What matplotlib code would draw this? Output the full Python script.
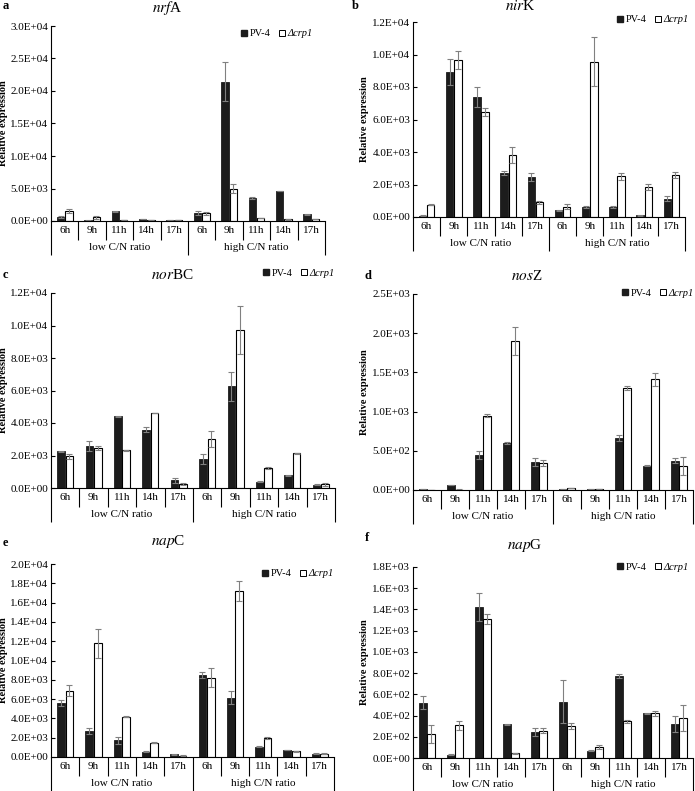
import numpy as np
import matplotlib.pyplot as plt
from matplotlib.patches import Patch
from matplotlib.ticker import FuncFormatter, MultipleLocator

plt.rcParams['font.family'] = ['Liberation Serif', 'DejaVu Serif']
plt.rcParams['mathtext.fontset'] = 'stix'

W, H = 695, 791

times = ['6h', '9h', '11h', '14h', '17h']
groups = ['low C/N ratio', 'high C/N ratio']
strains = ['PV-4', 'Δcrp1']

# values: low C/N (6h..17h) then high C/N (6h..17h)
nrfA_wt = [600, 100, 1500, 300, 150, 1200, 21400, 3550, 4600, 1050]
nrfA_wt_err = [150, 30, 50, 60, 40, 300, 3000, 150, 50, 100]
nrfA_mut = [1500, 560, 200, 200, 100, 1180, 5000, 450, 250, 300]
nrfA_mut_err = [300, 250, 30, 30, 20, 200, 700, 40, 40, 60]

nirK_wt = [80, 8900, 7400, 2710, 2480, 410, 620, 600, 100, 1130]
nirK_wt_err = [20, 800, 600, 100, 250, 30, 80, 50, 20, 150]
nirK_mut = [760, 9640, 6440, 3800, 900, 620, 9560, 2500, 1850, 2580]
nirK_mut_err = [20, 560, 250, 500, 100, 150, 1500, 200, 200, 200]

norBC_wt = [2260, 2600, 4410, 3590, 470, 1800, 6260, 390, 780, 200]
norBC_wt_err = [30, 300, 50, 150, 150, 300, 900, 20, 50, 30]
norBC_mut = [1950, 2460, 2320, 4620, 250, 3020, 9720, 1230, 2130, 230]
norBC_mut_err = [150, 150, 30, 20, 50, 500, 1500, 50, 50, 80]

nosZ_wt = [10, 65, 450, 600, 360, 15, 10, 660, 311, 375]
nosZ_wt_err = [3, 5, 50, 10, 50, 3, 3, 40, 10, 35]
nosZ_mut = [3, 5, 950, 1900, 345, 25, 10, 1300, 1410, 305]
nosZ_mut_err = [1, 2, 20, 175, 40, 3, 3, 25, 80, 120]

napC_wt = [5560, 2690, 1710, 560, 280, 8530, 6150, 1050, 730, 350]
napC_wt_err = [300, 300, 350, 30, 30, 300, 700, 50, 30, 30]
napC_mut = [6890, 11780, 4160, 1500, 140, 8220, 17200, 1960, 590, 350]
napC_mut_err = [600, 1500, 50, 30, 20, 1000, 1000, 100, 30, 30]

napG_wt = [523, 31, 1424, 316, 247, 532, 69, 773, 420, 319]
napG_wt_err = [60, 5, 130, 5, 40, 200, 5, 20, 5, 75]
napG_mut = [225, 307, 1309, 44, 257, 300, 106, 344, 422, 379]
napG_mut_err = [85, 40, 50, 5, 25, 30, 20, 10, 25, 120]

# layout: letter, italic part, upright part, data, ymax, step,
# axes box px (left, right, top, bottom), title xy, letter xy, legend xy, ylabel x
panels = [
    ('a', 'nrf', 'A', (nrfA_wt, nrfA_wt_err, nrfA_mut, nrfA_mut_err), 3.0e4, 5.0e3,
     (51, 325, 26, 221), (167, 8), (3, 6), (241, 34), 4),
    ('b', 'nir', 'K', (nirK_wt, nirK_wt_err, nirK_mut, nirK_mut_err), 1.2e4, 2.0e3,
     (413, 685, 22, 217), (520, 6), (352, 6), (617, 20), 365),
    ('c', 'nor', 'BC', (norBC_wt, norBC_wt_err, norBC_mut, norBC_mut_err), 1.2e4, 2.0e3,
     (51, 335, 293, 488), (172, 275), (3, 275), (263, 273), 4),
    ('d', 'nos', 'Z', (nosZ_wt, nosZ_wt_err, nosZ_mut, nosZ_mut_err), 2.5e3, 5.0e2,
     (413, 693, 294, 490), (527, 276), (365, 276), (622, 293), 364),
    ('e', 'nap', 'C', (napC_wt, napC_wt_err, napC_mut, napC_mut_err), 2.0e4, 2.0e3,
     (51, 334, 564, 757), (168, 542), (3, 543), (262, 574), 4),
    ('f', 'nap', 'G', (napG_wt, napG_wt_err, napG_mut, napG_mut_err), 1.8e3, 2.0e2,
     (413, 693, 567, 758), (525, 546), (365, 538), (617, 567), 364),
]

BAR_W = 0.27
GAP = 0.015
DARK = '#1c1c1c'
ERR = '#808080'


def sci(v, pos):
    return f"{v:.1E}"


def draw_categories(ax, box_h):
    d1 = 19 / box_h
    d2 = 34 / box_h
    tr = ax.get_xaxis_transform()
    for i in range(11):
        depth = d2 if i in (0, 5, 10) else d1
        ax.plot([i - 0.5, i - 0.5], [0, -depth], transform=tr, color='black',
                lw=0.8, clip_on=False, solid_capstyle='butt')
    for i, t in enumerate(times * 2):
        ax.text(i, -d1 / 2, t, transform=tr, ha='center', va='center', fontsize=8)
    for g, name in enumerate(groups):
        ax.text(2 + 5 * g, -(d1 + d2) / 2, name, transform=tr, ha='center',
                va='center', fontsize=8)


fig = plt.figure(figsize=(W / 100, H / 100), dpi=100)

for (letter, ital, upr, data, ymax, step, box, tpos, lpos, legpos, ylx) in panels:
    wt, wt_err, mut, mut_err = data
    L, R, T, B = box
    ax = fig.add_axes([L / W, 1 - B / H, (R - L) / W, (B - T) / H])
    x = np.arange(10)
    ax.bar(x - BAR_W / 2 - GAP, wt, BAR_W, color=DARK, edgecolor=DARK, lw=0.6,
           yerr=wt_err, capsize=2,
           error_kw=dict(ecolor=ERR, elinewidth=0.8, capthick=0.8))
    ax.bar(x + BAR_W / 2 + GAP, mut, BAR_W, color='white', edgecolor='black', lw=0.8,
           yerr=mut_err, capsize=2,
           error_kw=dict(ecolor=ERR, elinewidth=0.8, capthick=0.8))
    ax.set_xlim(-0.5, 9.5)
    ax.set_ylim(0, ymax)
    ax.yaxis.set_major_locator(MultipleLocator(step))
    ax.yaxis.set_major_formatter(FuncFormatter(sci))
    ax.set_xticks([])
    ax.tick_params(axis='y', direction='in', length=3, width=0.8, labelsize=8, pad=2)
    for s in ('top', 'right'):
        ax.spines[s].set_visible(False)
    for s in ('left', 'bottom'):
        ax.spines[s].set_linewidth(0.8)
    draw_categories(ax, B - T)

    fig.text(ylx / W, 1 - (T + B) / 2 / H, 'Relative expression', rotation=90,
             ha='center', va='center', fontsize=7.5, fontweight='bold')
    fig.text(tpos[0] / W, 1 - tpos[1] / H, rf'$\mathit{{{ital}}}$' + upr,
             ha='center', va='center', fontsize=11)
    fig.text(lpos[0] / W, 1 - lpos[1] / H, letter, ha='left', va='center',
             fontsize=9, fontweight='bold')

    handles = [Patch(facecolor=DARK, edgecolor=DARK),
               Patch(facecolor='white', edgecolor='black', lw=0.7)]
    leg = ax.legend(handles, strains, ncol=2, frameon=False, fontsize=7.5,
                    loc='center left', bbox_to_anchor=(legpos[0] / W, 1 - legpos[1] / H),
                    bbox_transform=fig.transFigure, borderpad=0, borderaxespad=0,
                    handlelength=0.6, handleheight=0.6, handletextpad=0.2,
                    columnspacing=0.8)
    leg.get_texts()[1].set_style('italic')

fig.savefig('out.png', dpi=100)
